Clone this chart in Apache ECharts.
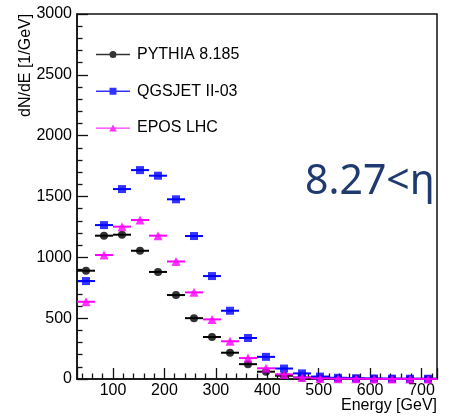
<!DOCTYPE html>
<html>
<head>
<meta charset="utf-8">
<script src="https://cdn.jsdelivr.net/npm/echarts@6/dist/echarts.min.js"></script>
<style>
  html, body { margin: 0; padding: 0; background: #fff; }
  #chart { width: 459px; height: 416px; }
</style>
</head>
<body>
<div id="chart"></div>
<script>
// Energy bin centres (GeV), 35 GeV wide bins from 30 to 730 GeV
const energy = [47.5, 82.5, 117.5, 152.5, 187.5, 222.5, 257.5, 292.5, 327.5, 362.5,
                397.5, 432.5, 467.5, 502.5, 537.5, 572.5, 607.5, 642.5, 677.5, 712.5];
const binHalfWidth = 17.5;

// dN/dE [1/GeV] per generator
const pythia  = [890, 1178, 1186, 1054, 880, 690, 500, 345, 216, 122, 60, 27, 12, 7, 4, 3, 2, 1, 1, 1];
const qgsjet  = [805, 1265, 1561, 1717, 1671, 1477, 1175, 846, 561, 337, 182, 86, 46, 20, 10, 6, 4, 3, 2, 2];
const epos    = [635, 1019, 1252, 1307, 1178, 966, 712, 490, 310, 172, 88, 38, 12, 5, 3, 2, 1, 1, 1, 1];

const seriesNames = ['PYTHIA 8.185', 'QGSJET II-03', 'EPOS LHC'];
const seriesColors = ['#000000', '#0000ff', '#ff00ff'];
const seriesSymbols = ['circle', 'rect', 'triangle'];
const seriesValues = [pythia, qgsjet, epos];

const legendIcons = [
  'path://M0,4.3H34V5.7H0Z M13.5,5A3.5,3.5 0 1 1 20.5,5A3.5,3.5 0 1 1 13.5,5Z',
  'path://M0,4.3H34V5.7H0Z M13.5,1.5H20.5V8.5H13.5Z',
  'path://M0,4.3H34V5.7H0Z M17,1.3L20.8,8.3H13.2Z'
];

const FONT = 'Liberation Sans, Arial, Helvetica, sans-serif';

const chart = echarts.init(document.getElementById('chart'), null, { renderer: 'canvas' });

const series = [];
seriesNames.forEach((name, i) => {
  const pts = energy.map((e, k) => [e, seriesValues[i][k]]);
  // horizontal bin-width bars
  series.push({
    type: 'custom',
    name: name + ' bins',
    data: pts,
    z: 2 + i * 2,
    silent: true,
    clip: false,
    renderItem: function (params, api) {
      const x = api.value(0), y = api.value(1);
      const p1 = api.coord([x - binHalfWidth, y]);
      const p2 = api.coord([x + binHalfWidth, y]);
      return {
        type: 'line',
        shape: { x1: p1[0], y1: p1[1], x2: p2[0], y2: p2[1] },
        style: { stroke: seriesColors[i], lineWidth: 2 }
      };
    }
  });
  // markers
  series.push({
    type: 'scatter',
    name: name,
    data: pts,
    z: 3 + i * 2,
    symbol: seriesSymbols[i],
    symbolSize: i === 2 ? 9 : 8,
    itemStyle: { color: seriesColors[i] },
    clip: false
  });
});

chart.setOption({
  animation: false,
  backgroundColor: '#ffffff',
  grid: {
    left: 77, right: 22, top: 14, bottom: 37,
    containLabel: false,
    outerBoundsMode: 'none',
    show: true, borderColor: '#111', borderWidth: 1.5, backgroundColor: 'transparent'
  },
  legend: {
    orient: 'vertical',
    left: 96, top: 46.5,
    padding: 0,
    itemWidth: 34, itemHeight: 10, itemGap: 20.7,
    data: seriesNames.map((n, i) => ({ name: n, icon: legendIcons[i], itemStyle: { color: seriesColors[i] } })),
    textStyle: { fontFamily: FONT, fontSize: 16, color: '#000', padding: [0, 0, 0, 2] },
    selectedMode: false
  },
  xAxis: {
    type: 'value',
    min: 30, max: 730,
    splitNumber: 7,
    axisLine: { show: true, onZero: false, lineStyle: { color: '#111', width: 1.5 } },
    axisTick: { show: true, inside: true, length: 11, lineStyle: { color: '#111', width: 1.3 } },
    minorTick: { show: true, splitNumber: 5, length: 5.5, lineStyle: { color: '#111', width: 1.3 } },
    splitLine: { show: false },
    axisLabel: {
      fontFamily: FONT, fontSize: 16, color: '#000', margin: 4,
      showMinLabel: false, showMaxLabel: false,
      formatter: v => (v % 100 === 0 ? String(v) : '')
    }
  },
  yAxis: {
    type: 'value',
    min: 0, max: 3000, interval: 500,
    axisLine: { show: true, lineStyle: { color: '#111', width: 1.5 } },
    axisTick: { show: true, inside: true, length: 11, lineStyle: { color: '#111', width: 1.3 } },
    minorTick: { show: true, splitNumber: 5, length: 5.5, lineStyle: { color: '#111', width: 1.3 } },
    splitLine: { show: false },
    axisLabel: { fontFamily: FONT, fontSize: 16, color: '#000', margin: 5, formatter: v => String(v) }
  },
  graphic: [
    {
      type: 'text',
      x: 26, y: 117,
      rotation: Math.PI / 2,
      style: { text: 'dN/dE [1/GeV]', font: '16px ' + FONT, fill: '#000', align: 'left', verticalAlign: 'middle' }
    },
    {
      type: 'text',
      x: 437, y: 406,
      style: { text: 'Energy [GeV]', font: '16px ' + FONT, fill: '#000', align: 'right', verticalAlign: 'middle' }
    },
    {
      type: 'text',
      x: 305, y: 182,
      style: { text: '8.27<η', font: '41px "Noto Sans", sans-serif', fill: '#1f3a6e', align: 'left', verticalAlign: 'middle' }
    }
  ],
  series: series
});
</script>
</body>
</html>
